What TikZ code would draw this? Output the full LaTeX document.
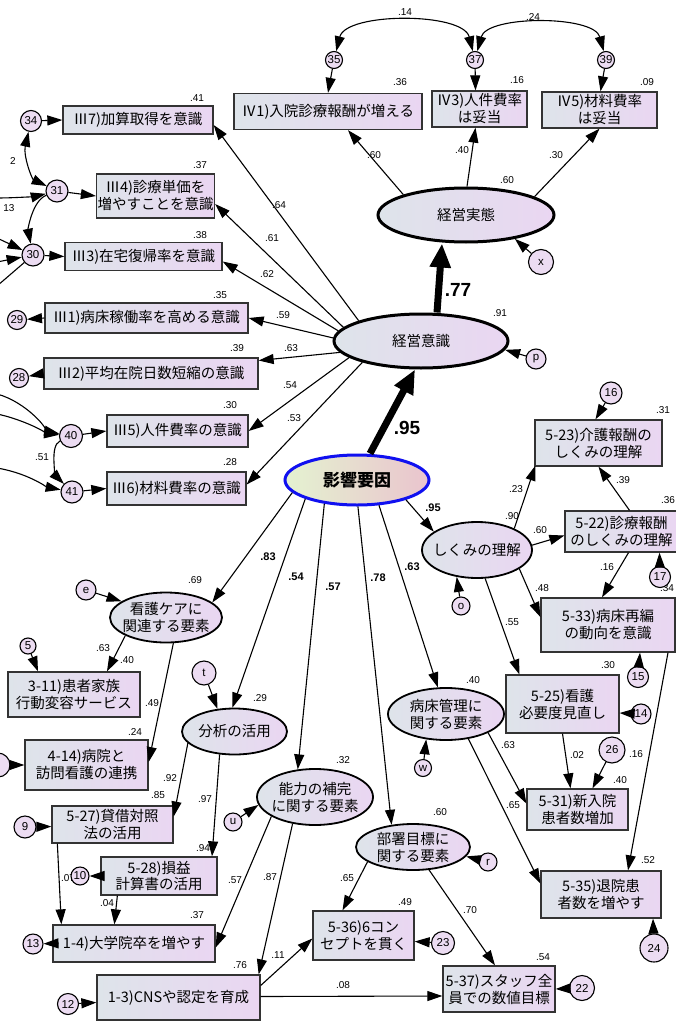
\documentclass[tikz,border=0pt]{standalone}
\usepackage{fontspec}
\setmainfont{Liberation Sans}
\newfontfamily\jpfam{Noto Sans CJK JP}
\usetikzlibrary{shapes.geometric,arrows.meta,calc}
\definecolor{boxL}{RGB}{222,228,234}
\definecolor{boxR}{RGB}{234,214,242}
\definecolor{errC}{RGB}{236,220,242}
\definecolor{infL}{RGB}{228,242,208}
\definecolor{infR}{RGB}{234,196,206}
\definecolor{infB}{RGB}{16,16,240}
\newcommand\JPf{\jpfam\fontsize{14.5}{17}\selectfont}
\newcommand\JPbf{\jpfam\bfseries\fontsize{17}{17}\selectfont}
\newcommand\NUMf{\fontsize{10}{10}\selectfont}
\newcommand\ERRf{\fontsize{11.5}{11.5}\selectfont}
\newcommand\BNUMf{\bfseries\fontsize{11}{11}\selectfont}
\newcommand\BIGf{\bfseries\fontsize{19}{19}\selectfont}
\begin{document}
\begin{tikzpicture}[x=1pt,y=-1pt,
  box/.style={rectangle, draw=black!80, line width=1.3pt, left color=boxL, right color=boxR, inner sep=1pt, align=center, font=\JPf},
  lat/.style={ellipse, draw=black, line width=1.8pt, left color=boxL, right color=boxR, inner sep=0pt},
  err/.style={circle, draw=black, line width=1.1pt, fill=errC, inner sep=0pt, font=\ERRf, minimum size=#1},
  err/.default=18pt,
  arr/.style={-{Triangle[length=15pt,width=10pt]}, line width=1.1pt},
  darr/.style={{Triangle[length=15pt,width=10pt]}-{Triangle[length=15pt,width=10pt]}, line width=1.1pt},
  tarr/.style={-{Triangle[length=24pt,width=20pt]}, line width=7pt},
  num/.style={font=\NUMf, inner sep=0pt},
  bnum/.style={font=\BNUMf, inner sep=0pt},
  bign/.style={font=\BIGf, inner sep=0pt}]
\useasboundingbox (0,0) rectangle (676,1022);
\fill[white] (0,0) rectangle (676,1022);

% ---------- boxes ----------
\node[box, minimum width=188pt, minimum height=36pt] (k1) at (328,111.5) {Ⅳ1)入院診療報酬が増える};
\node[box, minimum width=95pt, minimum height=36pt] (k3) at (479.5,109) {Ⅳ3)人件費率\\は妥当};
\node[box, minimum width=115pt, minimum height=36pt] (k5) at (599.5,110) {Ⅳ5)材料費率\\は妥当};

\node[box, minimum width=150pt, minimum height=28pt] (m7) at (138,120) {Ⅲ7)加算取得を意識};
\node[box, minimum width=115pt, minimum height=44pt] (m4) at (155.5,196) {Ⅲ4)診療単価を\\増やすことを意識};
\node[box, minimum width=157pt, minimum height=28pt] (m3) at (143.5,256.5) {Ⅲ3)在宅復帰率を意識};
\node[box, minimum width=203pt, minimum height=30pt] (m1) at (146.5,318) {Ⅲ1)病床稼働率を高める意識};
\node[box, minimum width=214pt, minimum height=31pt] (m2) at (151,373.5) {Ⅲ2)平均在院日数短縮の意識};
\node[box, minimum width=141pt, minimum height=32pt] (m5) at (177.5,431) {Ⅲ5)人件費率の意識};
\node[box, minimum width=139pt, minimum height=33pt] (m6) at (176.5,488.5) {Ⅲ6)材料費率の意識};

\node[box, minimum width=127pt, minimum height=46pt] (s523) at (598.5,443) {5-23)介護報酬の\\しくみの理解};
\node[box, minimum width=113pt, minimum height=41pt] (s522) at (621.5,531.5) {5-22)診療報酬\\のしくみの理解};
\node[box, minimum width=134pt, minimum height=54pt] (s533) at (608,625) {5-33)病床再編\\の動向を意識};
\node[box, minimum width=113pt, minimum height=58pt] (s525) at (562.5,704) {5-25)看護\\必要度見直し};
\node[box, minimum width=101pt, minimum height=41pt] (s531) at (577.5,809.5) {5-31)新入院\\患者数増加};
\node[box, minimum width=120pt, minimum height=47pt] (s535) at (601,894.5) {5-35)退院患\\者数を増やす};
\node[box, minimum width=101pt, minimum height=49pt] (s536) at (363.5,935.5) {5-36)6コン\\セプトを貫く};
\node[box, minimum width=112pt, minimum height=46pt] (s537) at (499,989) {5-37)スタッフ全\\員での数値目標};
\node[box, minimum width=163pt, minimum height=45pt] (s13) at (178.5,997.5) {1-3)CNSや認定を育成};
\node[box, minimum width=162pt, minimum height=37pt] (s14) at (134,943.5) {1-4)大学院卒を増やす};
\node[box, minimum width=121pt, minimum height=37pt] (s527) at (112.5,824.5) {5-27)貸借対照\\法の活用};
\node[box, minimum width=116pt, minimum height=38pt] (s528) at (159,876) {5-28)損益\\計算書の活用};
\node[box, minimum width=132pt, minimum height=45pt] (s311) at (74,694.5) {3-11)患者家族\\行動変容サービス};
\node[box, minimum width=123pt, minimum height=50pt] (s414) at (86.5,765) {4-14)病院と\\訪問看護の連携};

% ---------- latent ellipses ----------
\node[lat, line width=3pt, minimum width=176pt, minimum height=54pt, label={[font=\JPf]center:経営実態}] (jt) at (466,215) {};
\node[lat, line width=3pt, minimum width=174pt, minimum height=54pt, label={[font=\JPf]center:経営意識}] (keii) at (421,341) {};
\node[lat, draw=infB, line width=3pt, left color=infL, right color=infR, minimum width=144pt, minimum height=50pt, label={[font=\JPbf]center:影響要因}] (eik) at (357,480) {};
\node[lat, minimum width=110pt, minimum height=56pt, label={[font=\JPf]center:しくみの理解}] (shk) at (477,550) {};
\node[lat, minimum width=112pt, minimum height=50pt, label={[font=\JPf, align=center]center:{看護ケアに\\関連する要素}}] (kango) at (166,617.5) {};
\node[lat, minimum width=105pt, minimum height=46pt, label={[font=\JPf]center:分析の活用}] (bun) at (234.5,731.5) {};
\node[lat, minimum width=116pt, minimum height=56pt, label={[font=\JPf, align=center]center:{能力の補完\\に関する要素}}] (nou) at (315,797) {};
\node[lat, minimum width=116pt, minimum height=52pt, label={[font=\JPf, align=center]center:{病床管理に\\関する要素}}] (byo) at (446,714) {};
\node[lat, minimum width=114pt, minimum height=46pt, label={[font=\JPf, align=center]center:{部署目標に\\関する要素}}] (bus) at (413,847) {};

% ---------- labels under circles ----------
\node[num] (l07) at (68,878) {.07};
\node[num] (l34b) at (667,588) {.34};

% ---------- error circles ----------
\node[err=17pt] (e35) at (334,60) {35};
\node[err=17pt] (e37) at (475,60) {37};
\node[err=17pt] (e39) at (606,60) {39};
\node[err=25pt] (ex) at (541,262) {x};
\node[err=20pt] (ep) at (536,359) {p};
\node[err=22pt] (e16) at (611,393) {16};
\node[err=21pt] (e17) at (660,577) {17};
\node[err=21pt] (e15) at (638,677) {15};
\node[err=20pt] (e14) at (641,714) {14};
\node[err=26pt] (e26) at (612,750) {26};
\node[err=28pt] (e24) at (654,948) {24};
\node[err=25pt] (e22) at (582,988) {22};
\node[err=23pt] (e23) at (443,943) {23};
\node[err=18pt] (eo) at (461,606) {o};
\node[err=17pt] (ew) at (423,768) {w};
\node[err=18pt] (er) at (488,862) {r};
\node[err=18pt] (eu) at (233,822) {u};
\node[err=24pt] (et) at (204,673) {t};
\node[err=20pt] (ee) at (86,590) {e};
\node[err=16pt] (e5) at (28,646) {5};
\node[err=24pt] (e8) at (-2,765) {};
\node[err=22pt] (e9) at (25,827) {9};
\node[err=18pt] (e10) at (80,876) {10};
\node[err=20pt] (e13) at (33,944) {13};
\node[err=21pt] (e12) at (68,1004) {12};
\node[err=21pt] (e34) at (31,121) {34};
\node[err=22pt] (e31) at (57,191) {31};
\node[err=22pt] (e30) at (33,255) {30};
\node[err=19pt] (e29) at (17,320) {29};
\node[err=19pt] (e28) at (19,378) {28};
\node[err=23pt] (e40) at (71,436) {40};
\node[err=22pt] (e41) at (72,492) {41};

\coordinate (L1) at (-3,198);
\coordinate (L3) at (-3,238);
\coordinate (L4) at (-3,262);
\coordinate (L5) at (-3,286);
\coordinate (L6) at (-3,394);
\coordinate (L7) at (-3,414);
\coordinate (L8) at (-3,468);

% ---------- top ----------
\draw[darr] (e35) .. controls +(12,-48) and +(-12,-48) .. (e37);
\draw[darr] (e37) .. controls +(12,-45) and +(-12,-45) .. (e39);
\draw[arr] (e35) -- (k1.north);
\draw[arr] (e37) -- ($(k3.north)+(-4,0)$);
\draw[arr] (e39) -- ($(k5.north)+(1,0)$);
\draw[arr] (jt.162) -- ($(k1.south)+(20,0)$);
\draw[arr] (jt.88) -- ($(k3.south)+(-4,0)$);
\draw[arr] (jt.15) -- (k5.south);
\draw[arr] (ex) -- (jt.-26);
\draw[arr] (ep) -- (keii.-6);
\draw[tarr] ($(keii.north)+(16,0)$) -- ($(jt.south)+(-24,0)$);
\draw[tarr] ($(eik.north)+(13,0)$) -- ($(keii.south)+(-6,0)$);

% ---------- management awareness ----------
\draw[arr] (keii.162) -- ($(m7.east)+(0,5)$);
\draw[arr] (keii.170) -- ($(m4.east)+(0,8)$);
\draw[arr] (keii.173) -- ($(m3.east)+(0,5)$);
\draw[arr] (keii.178) -- (m1.east);
\draw[arr] (keii.188) -- ($(m2.east)+(0,-13)$);
\draw[arr] (keii.193) -- (m5.east);
\draw[arr] (keii.200) -- ($(m6.east)+(0,-4)$);
\draw[arr] (e34) -- (m7.west);
\draw[arr] (e31) -- (m4.west);
\draw[arr] (e30) -- (m3.west);
\draw[arr] (m1.west) -- (e29);
\draw[arr] (m2.west) -- (e28);
\draw[arr] (e40) -- (m5.west);
\draw[arr] (e41) -- (m6.west);

% left covariances
\draw[darr] (e34) .. controls +(-8,35) and +(-25,-12) .. (e31);
\draw[arr] (L1) .. controls +(20,0) and +(-20,5) .. (e31);
\draw[arr] (e31) .. controls +(-25,10) and +(-5,-25) .. (e30);
\draw[arr] (L3) -- (e30);
\draw[arr] (L4) -- (e30);
\draw[line width=1.1pt] (e30) -- (L5);
\draw[arr] (L6) .. controls +(30,8) and +(-20,-4) .. (e40);
\draw[arr] (L7) .. controls +(25,5) and +(-20,-2) .. (e40);
\draw[arr] (e40) .. controls +(-22,10) and +(-15,-15) .. (e41);
\draw[arr] (L8) .. controls +(30,5) and +(-25,-5) .. (e41);

% ---------- mechanism understanding ----------
\draw[arr] (eik.-22) -- (shk.157);
\draw[arr] (shk.30) -- ($(s523.south west)+(1,-1)$);
\draw[arr] (shk.5) -- ($(s522.west)+(0,4)$);
\draw[arr] (shk.-24) -- ($(s533.west)+(0,-8)$);
\draw[arr] (eo) -- (shk.233);
\draw[arr] (shk.-74) -- ($(s525.north west)+(14,0)$);
\draw[arr] ($(s522.north)+(8,0)$) -- (s523.south);
\draw[arr] ($(s522.south)+(7,0)$) -- ($(s533.north)+(-6,0)$);
\draw[arr] (e16) -- ($(s523.north)+(-3,0)$);
\draw[arr] (e17) -- ($(s522.south)+(38,0)$);
\draw[arr] ($(s533.south)+(60,0)$) -- ($(s535.north)+(27,0)$);
\draw[arr] (e15) -- ($(s533.south)+(32,0)$);
\draw[arr] (s525.south) -- ($(s531.north)+(-7,0)$);
\draw[arr] (e26) -- ($(s531.north)+(15,0)$);
\draw[arr] (e14) -- ($(s525.east)+(0,9)$);

% ---------- bed management / department ----------
\draw[arr] (eik.-49) -- (byo.107);
\draw[arr] (ew) -- (byo.232);
\draw[arr] (byo.-24) -- ($(s531.west)+(0,-6)$);
\draw[arr] (byo.-48) -- ($(s535.west)+(0,-11)$);
\draw[arr] (eik.-88) -- (bus.134);
\draw[arr] (er) -- (bus.-10);
\draw[arr] (bus.198) -- ($(s536.north)+(-21,0)$);
\draw[arr] (bus.-55) -- ($(s537.north)+(-4,0)$);
\draw[arr] (e23) -- ($(s536.east)+(0,6)$);
\draw[arr] (e22) -- (s537.east);
\draw[arr] (e24) -- ($(s535.south)+(52,0)$);

% ---------- ability ----------
\draw[arr] ($(s13.east)+(0,-12)$) -- ($(s536.west)+(0,3)$);
\draw[arr] ($(s13.east)+(0,-1)$) -- ($(s537.west)+(0,7)$);
\draw[arr] (e12) -- ($(s13.west)+(0,5)$);
\draw[arr] (nou.204) -- ($(s14.east)+(0,4)$);
\draw[arr] (nou.230) -- ($(s13.north east)+(-2,0)$);
\draw[arr] (eu) -- (nou.188);
\draw[arr] (eik.216) -- (nou.122);

% ---------- analysis / nursing ----------
\draw[arr] (eik.200) -- (bun.95);
\draw[arr] (eik.191) -- (kango.18);
\draw[arr] (ee) -- (kango.160);
\draw[arr] (kango.204) -- ($(s311.north)+(33,0)$);
\draw[arr] (kango.-74) -- ($(s414.east)+(0,-3)$);
\draw[arr] (e5) -- ($(s311.north)+(-36,0)$);
\draw[arr] (e8) -- (s414.west);
\draw[arr] (et) -- (bun.127);
\draw[arr] (bun.194) -- ($(s527.east)+(0,-8)$);
\draw[arr] (bun.237) -- ($(s528.north)+(53,0)$);
\draw[arr] (e9) -- ($(s527.west)+(0,2)$);
\draw[arr] ($(s527.south west)+(6,0)$) -- ($(s14.north west)+(9,0)$);
\draw[arr] (s528.west) -- (e10);
\draw[arr] ($(s528.south west)+(17,0)$) -- ($(s14.north west)+(62,0)$);
\draw[arr] (s14.west) -- (e13);

% ---------- number labels ----------
\node[num] (n1) at (405,12) {.14};
\node[num] (n2) at (533,17) {.24};
\node[num] (n3) at (400,82) {.36};
\node[num] (n4) at (517,80) {.16};
\node[num] (n5) at (647,82) {.09};
\node[num] (n6) at (374,155) {.60};
\node[num] (n7) at (462,150) {.40};
\node[num] (n8) at (556,155) {.30};
\node[num] (n9) at (507,180) {.60};
\node[num] (n10) at (197,98) {.41};
\node[num] (n11) at (200,165) {.37};
\node[num] (n12) at (200,235) {.38};
\node[num] (n13) at (220,295) {.35};
\node[num] (n14) at (237,348) {.39};
\node[num] (n15) at (230,405) {.30};
\node[num] (n16) at (230,462) {.28};
\node[num] (n17) at (279,205) {.64};
\node[num] (n18) at (272,238) {.61};
\node[num] (n19) at (267,274) {.62};
\node[num] (n20) at (283,315) {.59};
\node[num] (n21) at (291,348) {.63};
\node[num] (n22) at (290,385) {.54};
\node[num] (n23) at (294,418) {.53};
\node[num] (n24) at (500,313) {.91};
\node[num] (n25) at (13,161) {2};
\node[num] (n26) at (9,208) {13};
\node[num] (n27) at (42,457) {.51};
\node[num] (n28) at (663,410) {.31};
\node[num] (n29) at (623,480) {.39};
\node[num] (n30) at (516,489) {.23};
\node[num] (n31) at (512,516) {.90};
\node[num] (n32) at (540,530) {.60};
\node[num] (n33) at (668,500) {.36};
\node[num] (n34) at (607,567) {.16};
\node[num] (n35) at (542,588) {.48};
\node[num] (n36) at (512,622) {.55};
\node[num] (n37) at (608,665) {.30};
\node[num] (n38) at (577,755) {.02};
\node[num] (n39) at (636,754) {.16};
\node[num] (n40) at (620,780) {.40};
\node[num] (n41) at (508,745) {.63};
\node[num] (n42) at (513,805) {.65};
\node[num] (n43) at (473,680) {.40};
\node[num] (n44) at (648,860) {.52};
\node[num] (n45) at (440,812) {.60};
\node[num] (n46) at (347,878) {.65};
\node[num] (n47) at (470,910) {.70};
\node[num] (n48) at (405,902) {.49};
\node[num] (n49) at (543,957) {.54};
\node[num] (n50) at (278,955) {.11};
\node[num] (n51) at (343,985) {.08};
\node[num] (n52) at (240,965) {.76};
\node[num] (n53) at (343,760) {.32};
\node[num] (n54) at (235,880) {.57};
\node[num] (n55) at (270,877) {.87};
\node[num] (n56) at (197,915) {.37};
\node[num] (n57) at (107,903) {.04};
\node[num] (n58) at (203,848) {.94};
\node[num] (n59) at (205,799) {.97};
\node[num] (n60) at (170,778) {.92};
\node[num] (n61) at (158,795) {.85};
\node[num] (n62) at (260,698) {.29};
\node[num] (n63) at (135,732) {.24};
\node[num] (n64) at (152,703) {.49};
\node[num] (n65) at (195,580) {.69};
\node[num] (n66) at (103,648) {.63};
\node[num] (n67) at (127,660) {.40};

\node[bnum] (b1) at (433,508) {.95};
\node[bnum] (b2) at (268,557) {.83};
\node[bnum] (b3) at (296,577) {.54};
\node[bnum] (b4) at (333,587) {.57};
\node[bnum] (b5) at (378,578) {.78};
\node[bnum] (b6) at (412,567) {.63};
\node[bign] (g1) at (458,290) {.77};
\node[bign] (g2) at (407,428) {.95};
\end{tikzpicture}
\end{document}
